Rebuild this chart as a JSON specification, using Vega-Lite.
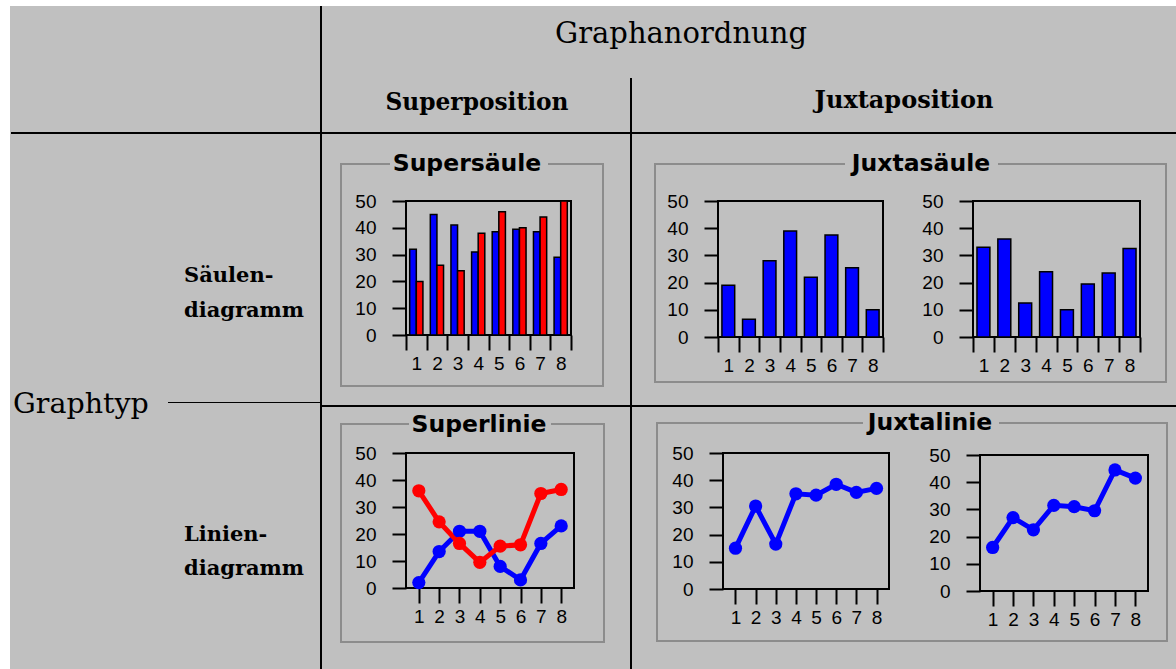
{
"background":"white","padding":0,
"config":{"view":{"stroke":null},
"axis":{"domain":false,"grid":false,"tickColor":"black","tickWidth":2,"labelColor":"black","labelFont":"Liberation Sans","labelFontSize":19},
"axisX":{"tickSize":15,"labelPadding":4,"labelAngle":0},
"axisY":{"tickSize":14,"labelPadding":16},
"concat":{"spacing":0}},
"bounds":"flush","spacing":0,
"hconcat":[
{"hconcat":[{"width":10,"height":1,"data":{"values":[]},"mark":"point"},{"vconcat":[{"width":1,"height":6,"data":{"values":[]},"mark":"point"},{"width":1166,"height":663,"data":{"values":[]},"mark":"point","view":{"fill":"#c0c0c0","stroke":null}}],"spacing":0,"bounds":"flush"}],"spacing":0,"bounds":"flush"},
{"hconcat":[{"width":320,"height":1,"data":{"values":[]},"mark":"point"},{"vconcat":[{"width":1,"height":6,"data":{"values":[]},"mark":"point"},{"width":2,"height":663,"data":{"values":[]},"mark":"point","view":{"fill":"black","stroke":null}}],"spacing":0,"bounds":"flush"}],"spacing":0,"bounds":"flush"},
{"hconcat":[{"width":11,"height":1,"data":{"values":[]},"mark":"point"},{"vconcat":[{"width":1,"height":132,"data":{"values":[]},"mark":"point"},{"width":1165,"height":2,"data":{"values":[]},"mark":"point","view":{"fill":"black","stroke":null}}],"spacing":0,"bounds":"flush"}],"spacing":0,"bounds":"flush"},
{"hconcat":[{"width":630,"height":1,"data":{"values":[]},"mark":"point"},{"vconcat":[{"width":1,"height":78,"data":{"values":[]},"mark":"point"},{"width":2,"height":591,"data":{"values":[]},"mark":"point","view":{"fill":"black","stroke":null}}],"spacing":0,"bounds":"flush"}],"spacing":0,"bounds":"flush"},
{"hconcat":[{"width":322,"height":1,"data":{"values":[]},"mark":"point"},{"vconcat":[{"width":1,"height":405,"data":{"values":[]},"mark":"point"},{"width":854,"height":2,"data":{"values":[]},"mark":"point","view":{"fill":"black","stroke":null}}],"spacing":0,"bounds":"flush"}],"spacing":0,"bounds":"flush"},
{"hconcat":[{"width":168,"height":1,"data":{"values":[]},"mark":"point"},{"vconcat":[{"width":1,"height":402,"data":{"values":[]},"mark":"point"},{"width":152,"height":1,"data":{"values":[]},"mark":"point","view":{"fill":"black","stroke":null}}],"spacing":0,"bounds":"flush"}],"spacing":0,"bounds":"flush"},
{"hconcat":[{"width":341,"height":1,"data":{"values":[]},"mark":"point"},{"vconcat":[{"width":1,"height":164,"data":{"values":[]},"mark":"point"},{"width":262,"height":222,"data":{"values":[]},"mark":"point","view":{"fill":null,"stroke":"#8c8c8c","strokeWidth":2}}],"spacing":0,"bounds":"flush"}],"spacing":0,"bounds":"flush"},
{"hconcat":[{"width":655,"height":1,"data":{"values":[]},"mark":"point"},{"vconcat":[{"width":1,"height":164,"data":{"values":[]},"mark":"point"},{"width":511,"height":218,"data":{"values":[]},"mark":"point","view":{"fill":null,"stroke":"#8c8c8c","strokeWidth":2}}],"spacing":0,"bounds":"flush"}],"spacing":0,"bounds":"flush"},
{"hconcat":[{"width":341,"height":1,"data":{"values":[]},"mark":"point"},{"vconcat":[{"width":1,"height":424,"data":{"values":[]},"mark":"point"},{"width":263,"height":218,"data":{"values":[]},"mark":"point","view":{"fill":null,"stroke":"#8c8c8c","strokeWidth":2}}],"spacing":0,"bounds":"flush"}],"spacing":0,"bounds":"flush"},
{"hconcat":[{"width":657,"height":1,"data":{"values":[]},"mark":"point"},{"vconcat":[{"width":1,"height":423,"data":{"values":[]},"mark":"point"},{"width":510,"height":218,"data":{"values":[]},"mark":"point","view":{"fill":null,"stroke":"#8c8c8c","strokeWidth":2}}],"spacing":0,"bounds":"flush"}],"spacing":0,"bounds":"flush"},
{"hconcat":[{"width":390,"height":1,"data":{"values":[]},"mark":"point"},{"vconcat":[{"width":1,"height":161,"data":{"values":[]},"mark":"point"},{"width":158,"height":6,"data":{"values":[]},"mark":"point","view":{"fill":"#c0c0c0","stroke":null}}],"spacing":0,"bounds":"flush"}],"spacing":0,"bounds":"flush"},
{"hconcat":[{"width":845,"height":1,"data":{"values":[]},"mark":"point"},{"vconcat":[{"width":1,"height":161,"data":{"values":[]},"mark":"point"},{"width":153,"height":6,"data":{"values":[]},"mark":"point","view":{"fill":"#c0c0c0","stroke":null}}],"spacing":0,"bounds":"flush"}],"spacing":0,"bounds":"flush"},
{"hconcat":[{"width":409,"height":1,"data":{"values":[]},"mark":"point"},{"vconcat":[{"width":1,"height":421,"data":{"values":[]},"mark":"point"},{"width":142,"height":6,"data":{"values":[]},"mark":"point","view":{"fill":"#c0c0c0","stroke":null}}],"spacing":0,"bounds":"flush"}],"spacing":0,"bounds":"flush"},
{"hconcat":[{"width":863,"height":1,"data":{"values":[]},"mark":"point"},{"vconcat":[{"width":1,"height":420,"data":{"values":[]},"mark":"point"},{"width":136,"height":6,"data":{"values":[]},"mark":"point","view":{"fill":"#c0c0c0","stroke":null}}],"spacing":0,"bounds":"flush"}],"spacing":0,"bounds":"flush"},
{"hconcat":[{"width":680,"height":1,"data":{"values":[]},"mark":"point"},{"vconcat":[{"width":1,"height":33,"data":{"values":[]},"mark":"point"},{"width":2,"height":2,"data":{"values":[{"t":"Graphanordnung"}]},"mark":{"type":"text","font":"DejaVu Serif","fontSize":29,"align":"center","baseline":"middle","color":"black"},"encoding":{"text":{"field":"t","type":"nominal"}}}],"spacing":0,"bounds":"flush"}],"spacing":0,"bounds":"flush"},
{"hconcat":[{"width":476,"height":1,"data":{"values":[]},"mark":"point"},{"vconcat":[{"width":1,"height":102,"data":{"values":[]},"mark":"point"},{"width":2,"height":2,"data":{"values":[{"t":"Superposition"}]},"mark":{"type":"text","font":"DejaVu Serif","fontSize":23.3,"fontWeight":"bold","align":"center","baseline":"middle","color":"black"},"encoding":{"text":{"field":"t","type":"nominal"}}}],"spacing":0,"bounds":"flush"}],"spacing":0,"bounds":"flush"},
{"hconcat":[{"width":903,"height":1,"data":{"values":[]},"mark":"point"},{"vconcat":[{"width":1,"height":100,"data":{"values":[]},"mark":"point"},{"width":2,"height":2,"data":{"values":[{"t":"Juxtaposition"}]},"mark":{"type":"text","font":"DejaVu Serif","fontSize":24,"fontWeight":"bold","align":"center","baseline":"middle","color":"black"},"encoding":{"text":{"field":"t","type":"nominal"}}}],"spacing":0,"bounds":"flush"}],"spacing":0,"bounds":"flush"},
{"hconcat":[{"width":183,"height":1,"data":{"values":[]},"mark":"point"},{"vconcat":[{"width":1,"height":275,"data":{"values":[]},"mark":"point"},{"width":2,"height":2,"data":{"values":[{"t":"Säulen-\ndiagramm"}]},"mark":{"type":"text","font":"DejaVu Serif","fontSize":21,"fontWeight":"bold","align":"left","baseline":"middle","color":"black","lineBreak":"\n","lineHeight":35},"encoding":{"text":{"field":"t","type":"nominal"}}}],"spacing":0,"bounds":"flush"}],"spacing":0,"bounds":"flush"},
{"hconcat":[{"width":183,"height":1,"data":{"values":[]},"mark":"point"},{"vconcat":[{"width":1,"height":534,"data":{"values":[]},"mark":"point"},{"width":2,"height":2,"data":{"values":[{"t":"Linien-\ndiagramm"}]},"mark":{"type":"text","font":"DejaVu Serif","fontSize":21,"fontWeight":"bold","align":"left","baseline":"middle","color":"black","lineBreak":"\n","lineHeight":34},"encoding":{"text":{"field":"t","type":"nominal"}}}],"spacing":0,"bounds":"flush"}],"spacing":0,"bounds":"flush"},
{"hconcat":[{"width":12,"height":1,"data":{"values":[]},"mark":"point"},{"vconcat":[{"width":1,"height":403,"data":{"values":[]},"mark":"point"},{"width":2,"height":2,"data":{"values":[{"t":"Graphtyp"}]},"mark":{"type":"text","font":"DejaVu Serif","fontSize":28.5,"align":"left","baseline":"middle","color":"black"},"encoding":{"text":{"field":"t","type":"nominal"}}}],"spacing":0,"bounds":"flush"}],"spacing":0,"bounds":"flush"},
{"hconcat":[{"width":466,"height":1,"data":{"values":[]},"mark":"point"},{"vconcat":[{"width":1,"height":163,"data":{"values":[]},"mark":"point"},{"width":2,"height":2,"data":{"values":[{"t":"Supersäule"}]},"mark":{"type":"text","font":"DejaVu Sans","fontSize":23.5,"fontWeight":"bold","align":"center","baseline":"middle","color":"black"},"encoding":{"text":{"field":"t","type":"nominal"}}}],"spacing":0,"bounds":"flush"}],"spacing":0,"bounds":"flush"},
{"hconcat":[{"width":920,"height":1,"data":{"values":[]},"mark":"point"},{"vconcat":[{"width":1,"height":163,"data":{"values":[]},"mark":"point"},{"width":2,"height":2,"data":{"values":[{"t":"Juxtasäule"}]},"mark":{"type":"text","font":"DejaVu Sans","fontSize":23.5,"fontWeight":"bold","align":"center","baseline":"middle","color":"black"},"encoding":{"text":{"field":"t","type":"nominal"}}}],"spacing":0,"bounds":"flush"}],"spacing":0,"bounds":"flush"},
{"hconcat":[{"width":478,"height":1,"data":{"values":[]},"mark":"point"},{"vconcat":[{"width":1,"height":424,"data":{"values":[]},"mark":"point"},{"width":2,"height":2,"data":{"values":[{"t":"Superlinie"}]},"mark":{"type":"text","font":"DejaVu Sans","fontSize":23.5,"fontWeight":"bold","align":"center","baseline":"middle","color":"black"},"encoding":{"text":{"field":"t","type":"nominal"}}}],"spacing":0,"bounds":"flush"}],"spacing":0,"bounds":"flush"},
{"hconcat":[{"width":929,"height":1,"data":{"values":[]},"mark":"point"},{"vconcat":[{"width":1,"height":422,"data":{"values":[]},"mark":"point"},{"width":2,"height":2,"data":{"values":[{"t":"Juxtalinie"}]},"mark":{"type":"text","font":"DejaVu Sans","fontSize":23.5,"fontWeight":"bold","align":"center","baseline":"middle","color":"black"},"encoding":{"text":{"field":"t","type":"nominal"}}}],"spacing":0,"bounds":"flush"}],"spacing":0,"bounds":"flush"},
{"hconcat":[{"width":406,"height":1,"data":{"values":[]},"mark":"point"},{"vconcat":[{"width":1,"height":201,"data":{"values":[]},"mark":"point"},
 {"width":165,"height":134,"view":{"stroke":"black","strokeWidth":2},
  "data":{"values":[
  {"k":1,"s":"Reihe 1","v":32},{"k":1,"s":"Reihe 2","v":20},
  {"k":2,"s":"Reihe 1","v":45},{"k":2,"s":"Reihe 2","v":26},
  {"k":3,"s":"Reihe 1","v":41},{"k":3,"s":"Reihe 2","v":24},
  {"k":4,"s":"Reihe 1","v":31},{"k":4,"s":"Reihe 2","v":38},
  {"k":5,"s":"Reihe 1","v":38.5},{"k":5,"s":"Reihe 2","v":46},
  {"k":6,"s":"Reihe 1","v":39.5},{"k":6,"s":"Reihe 2","v":40},
  {"k":7,"s":"Reihe 1","v":38.5},{"k":7,"s":"Reihe 2","v":44},
  {"k":8,"s":"Reihe 1","v":29},{"k":8,"s":"Reihe 2","v":50}]},
  "mark":{"type":"bar","stroke":"black","strokeWidth":1.5},
  "encoding":{
   "x":{"field":"k","type":"ordinal","scale":{"paddingInner":0,"paddingOuter":0},"axis":{"title":null,"tickBand":"extent"}},
   "xOffset":{"field":"s","type":"nominal","scale":{"paddingInner":0,"paddingOuter":0.56}},
   "y":{"field":"v","type":"quantitative","scale":{"domain":[0,50],"nice":false},"axis":{"title":null,"values":[0,10,20,30,40,50]}},
   "color":{"field":"s","type":"nominal","scale":{"domain":["Reihe 1","Reihe 2"],"range":["#0000ff","#ff0000"]},"legend":null}}}
 ],"spacing":0,"bounds":"flush"}],"spacing":0,"bounds":"flush"},
{"hconcat":[{"width":718,"height":1,"data":{"values":[]},"mark":"point"},{"vconcat":[{"width":1,"height":201,"data":{"values":[]},"mark":"point"},
 {"width":165,"height":136,"view":{"stroke":"black","strokeWidth":2},
  "data":{"values":[{"k":1,"v":19},{"k":2,"v":6.5},{"k":3,"v":28},{"k":4,"v":39},{"k":5,"v":22},{"k":6,"v":37.5},{"k":7,"v":25.5},{"k":8,"v":10}]},
  "mark":{"type":"bar","width":{"band":0.62},"fill":"#0000ff","stroke":"black","strokeWidth":1.5},
  "encoding":{
   "x":{"field":"k","type":"ordinal","scale":{"paddingInner":0,"paddingOuter":0},"axis":{"title":null,"tickBand":"extent"}},
   "y":{"field":"v","type":"quantitative","scale":{"domain":[0,50],"nice":false},"axis":{"title":null,"values":[0,10,20,30,40,50]}}}}
 ],"spacing":0,"bounds":"flush"}],"spacing":0,"bounds":"flush"},
{"hconcat":[{"width":973,"height":1,"data":{"values":[]},"mark":"point"},{"vconcat":[{"width":1,"height":201,"data":{"values":[]},"mark":"point"},
 {"width":167,"height":136,"view":{"stroke":"black","strokeWidth":2},
  "data":{"values":[{"k":1,"v":33},{"k":2,"v":36},{"k":3,"v":12.5},{"k":4,"v":24},{"k":5,"v":10},{"k":6,"v":19.5},{"k":7,"v":23.5},{"k":8,"v":32.5}]},
  "mark":{"type":"bar","width":{"band":0.62},"fill":"#0000ff","stroke":"black","strokeWidth":1.5},
  "encoding":{
   "x":{"field":"k","type":"ordinal","scale":{"paddingInner":0,"paddingOuter":0},"axis":{"title":null,"tickBand":"extent"}},
   "y":{"field":"v","type":"quantitative","scale":{"domain":[0,50],"nice":false},"axis":{"title":null,"values":[0,10,20,30,40,50]}}}}
 ],"spacing":0,"bounds":"flush"}],"spacing":0,"bounds":"flush"},
{"hconcat":[{"width":406,"height":1,"data":{"values":[]},"mark":"point"},{"vconcat":[{"width":1,"height":453,"data":{"values":[]},"mark":"point"},
 {"width":168,"height":135,"view":{"stroke":"black","strokeWidth":2},
  "data":{"values":[
  {"k":1,"s":"Reihe 1","v":2},{"k":2,"s":"Reihe 1","v":13.5},{"k":3,"s":"Reihe 1","v":21},{"k":4,"s":"Reihe 1","v":21},
  {"k":5,"s":"Reihe 1","v":8},{"k":6,"s":"Reihe 1","v":3},{"k":7,"s":"Reihe 1","v":16.5},{"k":8,"s":"Reihe 1","v":23},
  {"k":1,"s":"Reihe 2","v":36},{"k":2,"s":"Reihe 2","v":24.5},{"k":3,"s":"Reihe 2","v":16.5},{"k":4,"s":"Reihe 2","v":9.5},
  {"k":5,"s":"Reihe 2","v":15.5},{"k":6,"s":"Reihe 2","v":16},{"k":7,"s":"Reihe 2","v":35},{"k":8,"s":"Reihe 2","v":36.5}]},
  "encoding":{
   "x":{"field":"k","type":"ordinal","scale":{"type":"point","padding":0.63},"axis":{"title":null}},
   "y":{"field":"v","type":"quantitative","scale":{"domain":[0,50],"nice":false},"axis":{"title":null,"values":[0,10,20,30,40,50]}},
   "color":{"field":"s","type":"nominal","scale":{"domain":["Reihe 1","Reihe 2"],"range":["#0000ff","#ff0000"]},"legend":null}},
  "layer":[{"mark":{"type":"line","strokeWidth":5}},{"mark":{"type":"point","filled":true,"size":175,"opacity":1}}]}
 ],"spacing":0,"bounds":"flush"}],"spacing":0,"bounds":"flush"},
{"hconcat":[{"width":723,"height":1,"data":{"values":[]},"mark":"point"},{"vconcat":[{"width":1,"height":453,"data":{"values":[]},"mark":"point"},
 {"width":166,"height":136,"view":{"stroke":"black","strokeWidth":2},
  "data":{"values":[{"k":1,"v":15},{"k":2,"v":30.5},{"k":3,"v":16.5},{"k":4,"v":35},{"k":5,"v":34.5},{"k":6,"v":38.5},{"k":7,"v":35.5},{"k":8,"v":37}]},
  "encoding":{
   "x":{"field":"k","type":"ordinal","scale":{"type":"point","padding":0.62},"axis":{"title":null}},
   "y":{"field":"v","type":"quantitative","scale":{"domain":[0,50],"nice":false},"axis":{"title":null,"values":[0,10,20,30,40,50]}}},
  "layer":[{"mark":{"type":"line","strokeWidth":5,"color":"#0000ff"}},{"mark":{"type":"point","filled":true,"size":175,"opacity":1,"color":"#0000ff"}}]}
 ],"spacing":0,"bounds":"flush"}],"spacing":0,"bounds":"flush"},
{"hconcat":[{"width":980,"height":1,"data":{"values":[]},"mark":"point"},{"vconcat":[{"width":1,"height":455,"data":{"values":[]},"mark":"point"},
 {"width":168,"height":136,"view":{"stroke":"black","strokeWidth":2},
  "data":{"values":[{"k":1,"v":16},{"k":2,"v":27},{"k":3,"v":22.5},{"k":4,"v":31.5},{"k":5,"v":31},{"k":6,"v":29.5},{"k":7,"v":44.5},{"k":8,"v":41.5}]},
  "encoding":{
   "x":{"field":"k","type":"ordinal","scale":{"type":"point","padding":0.62},"axis":{"title":null}},
   "y":{"field":"v","type":"quantitative","scale":{"domain":[0,50],"nice":false},"axis":{"title":null,"values":[0,10,20,30,40,50]}}},
  "layer":[{"mark":{"type":"line","strokeWidth":5,"color":"#0000ff"}},{"mark":{"type":"point","filled":true,"size":175,"opacity":1,"color":"#0000ff"}}]}
 ],"spacing":0,"bounds":"flush"}],"spacing":0,"bounds":"flush"}
]
}
